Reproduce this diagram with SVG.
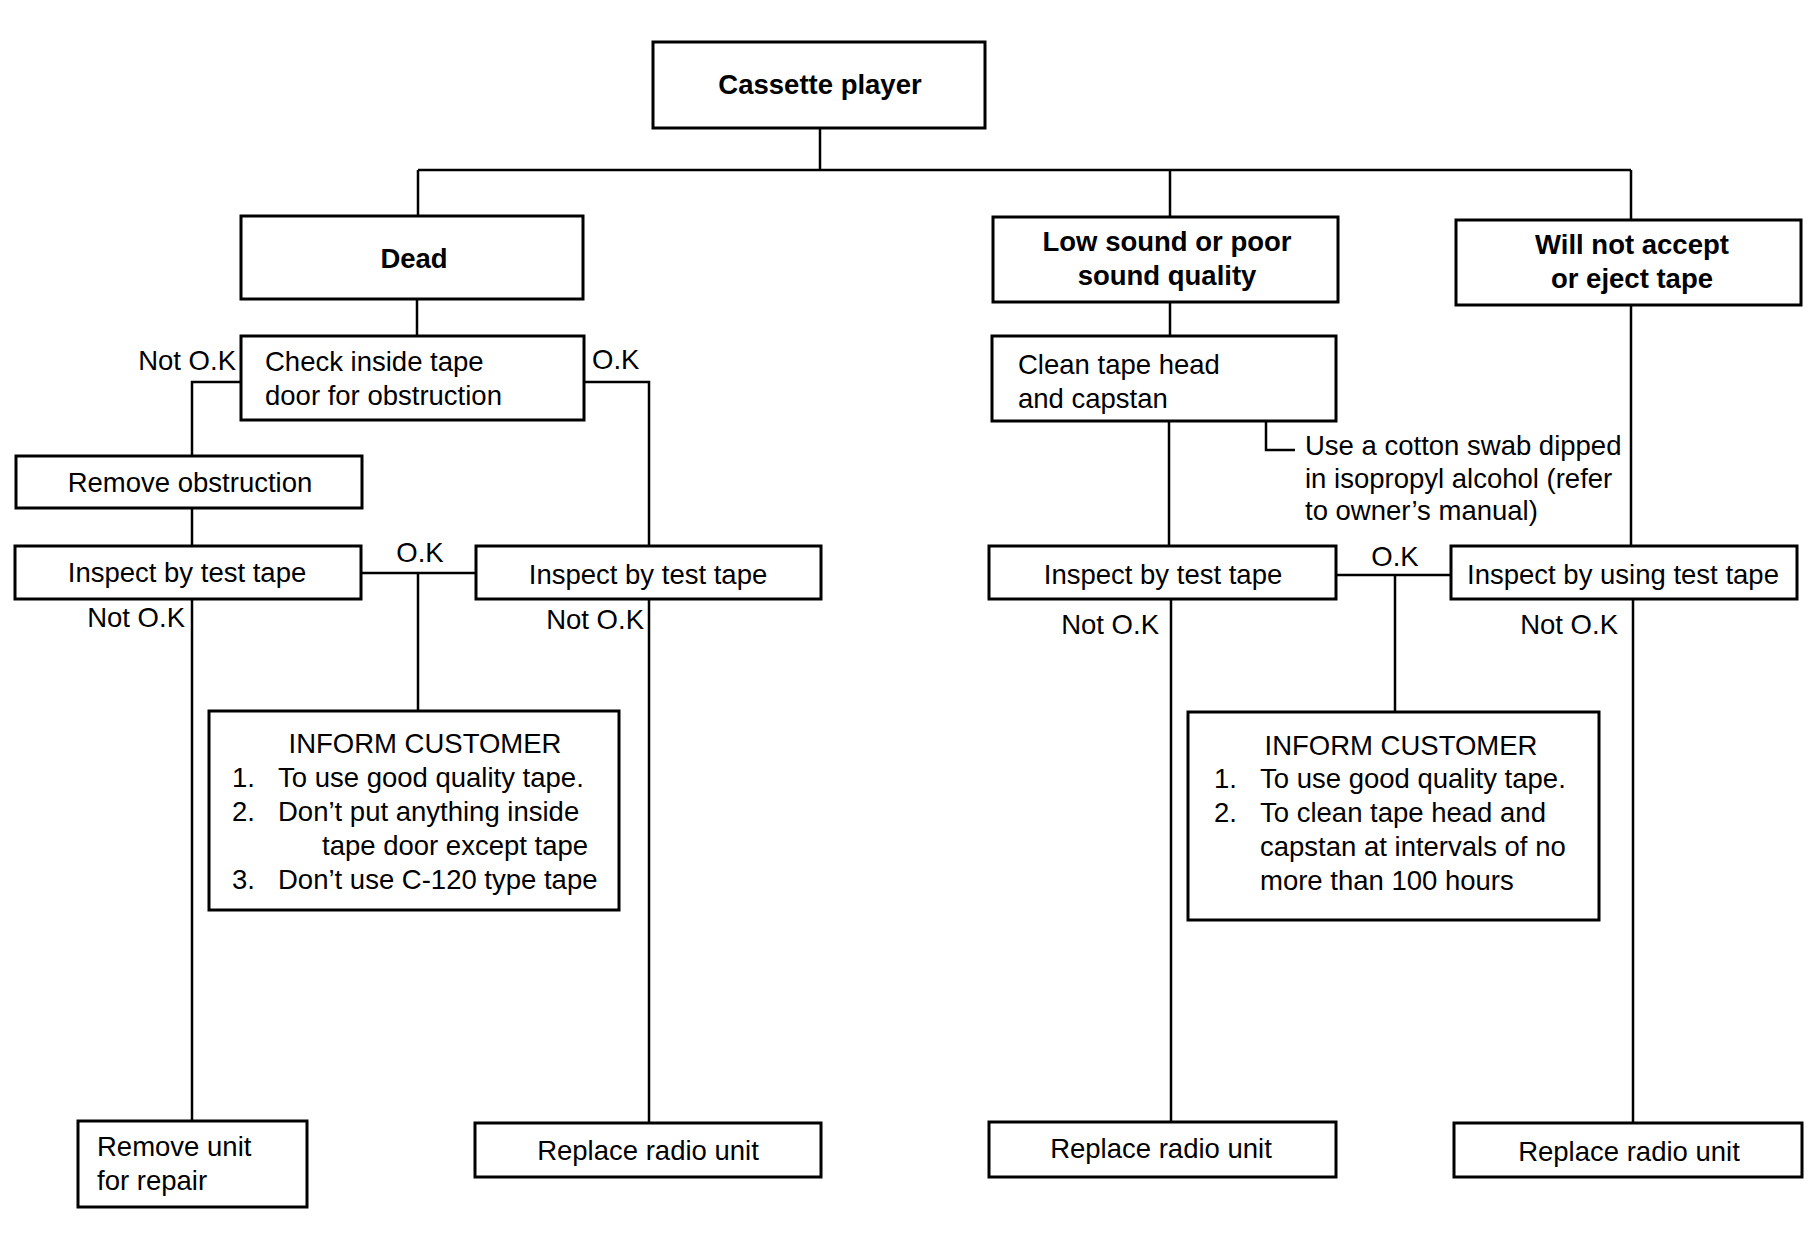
<svg xmlns="http://www.w3.org/2000/svg" width="1814" height="1248" viewBox="0 0 1814 1248">
<style>
.box{fill:#fff;stroke:#000;stroke-width:3}
.t{font-family:"Liberation Sans",Arial,sans-serif;font-size:27.5px;fill:#000}
.b{font-family:"Liberation Sans",Arial,sans-serif;font-size:27.5px;font-weight:bold;fill:#000}
.c{text-anchor:middle}
.e{text-anchor:end}
.ln{fill:none;stroke:#000;stroke-width:2.5}
</style>
<rect width="1814" height="1248" fill="#fff"/>
<g id="connectors">
<path class="ln" d="M820,127V170M418,170H1631M418,170V216M1170,170V217M1631,170V220"/>
<path class="ln" d="M417,299V336"/>
<path class="ln" d="M241,382H192V456M192,508V546M192,599V1121"/>
<path class="ln" d="M584,382H649V546M649,599V1123"/>
<path class="ln" d="M361,573H476M418,573V710"/>
<path class="ln" d="M1170,302V336M1169,421V546M1171,599V1122"/>
<path class="ln" d="M1266,421V450H1295"/>
<path class="ln" d="M1631,305V546M1633,599V1123"/>
<path class="ln" d="M1336,575H1451M1395,575V712"/>
</g>
<g id="cassette"><rect class="box" x="653" y="42" width="332" height="86"/><text class="b c" x="820" y="94">Cassette player</text></g>
<g id="dead"><rect class="box" x="241" y="216" width="342" height="83"/><text class="b c" x="414" y="268">Dead</text></g>
<g id="low"><rect class="box" x="993" y="217" width="345" height="85"/><text class="b c" x="1167" y="251">Low sound or poor</text><text class="b c" x="1167" y="285">sound quality</text></g>
<g id="will"><rect class="box" x="1456" y="220" width="345" height="85"/><text class="b c" x="1632" y="254">Will not accept</text><text class="b c" x="1632" y="288">or eject tape</text></g>
<g id="check"><rect class="box" x="241" y="336" width="343" height="84"/><text class="t" x="265" y="371">Check inside tape</text><text class="t" x="265" y="405">door for obstruction</text></g>
<g id="lbl-check"><text class="t e" x="236" y="370">Not O.K</text><text class="t" x="592" y="369">O.K</text></g>
<g id="remove-obs"><rect class="box" x="16" y="456" width="346" height="52"/><text class="t c" x="190" y="492">Remove obstruction</text></g>
<g id="inspect1"><rect class="box" x="15" y="546" width="346" height="53"/><text class="t c" x="187" y="582">Inspect by test tape</text></g>
<g id="inspect2"><rect class="box" x="476" y="546" width="345" height="53"/><text class="t c" x="648" y="584">Inspect by test tape</text></g>
<g id="lbl-insp"><text class="t c" x="420" y="562">O.K</text><text class="t e" x="185" y="627">Not O.K</text><text class="t e" x="644" y="629">Not O.K</text></g>
<g id="inform1"><rect class="box" x="209" y="711" width="410" height="199"/>
<text class="t c" x="425" y="753">INFORM CUSTOMER</text>
<text class="t" x="232" y="787">1.</text><text class="t" x="278" y="787">To use good quality tape.</text>
<text class="t" x="232" y="821">2.</text><text class="t" x="278" y="821">Don’t put anything inside</text>
<text class="t" x="322" y="855">tape door except tape</text>
<text class="t" x="232" y="889">3.</text><text class="t" x="278" y="889">Don’t use C-120 type tape</text></g>
<g id="remove-unit"><rect class="box" x="78" y="1121" width="229" height="86"/><text class="t" x="97" y="1156">Remove unit</text><text class="t" x="97" y="1190">for repair</text></g>
<g id="replace1"><rect class="box" x="475" y="1123" width="346" height="54"/><text class="t c" x="648" y="1160">Replace radio unit</text></g>
<g id="clean"><rect class="box" x="992" y="336" width="344" height="85"/><text class="t" x="1018" y="374">Clean tape head</text><text class="t" x="1018" y="408">and capstan</text></g>
<g id="note"><text class="t" x="1305" y="455">Use a cotton swab dipped</text><text class="t" x="1305" y="488">in isopropyl alcohol (refer</text><text class="t" x="1305" y="520">to owner’s manual)</text></g>
<g id="inspect3"><rect class="box" x="989" y="546" width="347" height="53"/><text class="t c" x="1163" y="584">Inspect by test tape</text></g>
<g id="inspect4"><rect class="box" x="1451" y="546" width="346" height="53"/><text class="t c" x="1623" y="584">Inspect by using test tape</text></g>
<g id="lbl-insp2"><text class="t c" x="1395" y="566">O.K</text><text class="t e" x="1159" y="634">Not O.K</text><text class="t e" x="1618" y="634">Not O.K</text></g>
<g id="inform2"><rect class="box" x="1188" y="712" width="411" height="208"/>
<text class="t c" x="1401" y="755">INFORM CUSTOMER</text>
<text class="t" x="1214" y="788">1.</text><text class="t" x="1260" y="788">To use good quality tape.</text>
<text class="t" x="1214" y="822">2.</text><text class="t" x="1260" y="822">To clean tape head and</text>
<text class="t" x="1260" y="856">capstan at intervals of no</text>
<text class="t" x="1260" y="890">more than 100 hours</text></g>
<g id="replace2"><rect class="box" x="989" y="1122" width="347" height="55"/><text class="t c" x="1161" y="1158">Replace radio unit</text></g>
<g id="replace3"><rect class="box" x="1454" y="1123" width="348" height="54"/><text class="t c" x="1629" y="1161">Replace radio unit</text></g>
</svg>
